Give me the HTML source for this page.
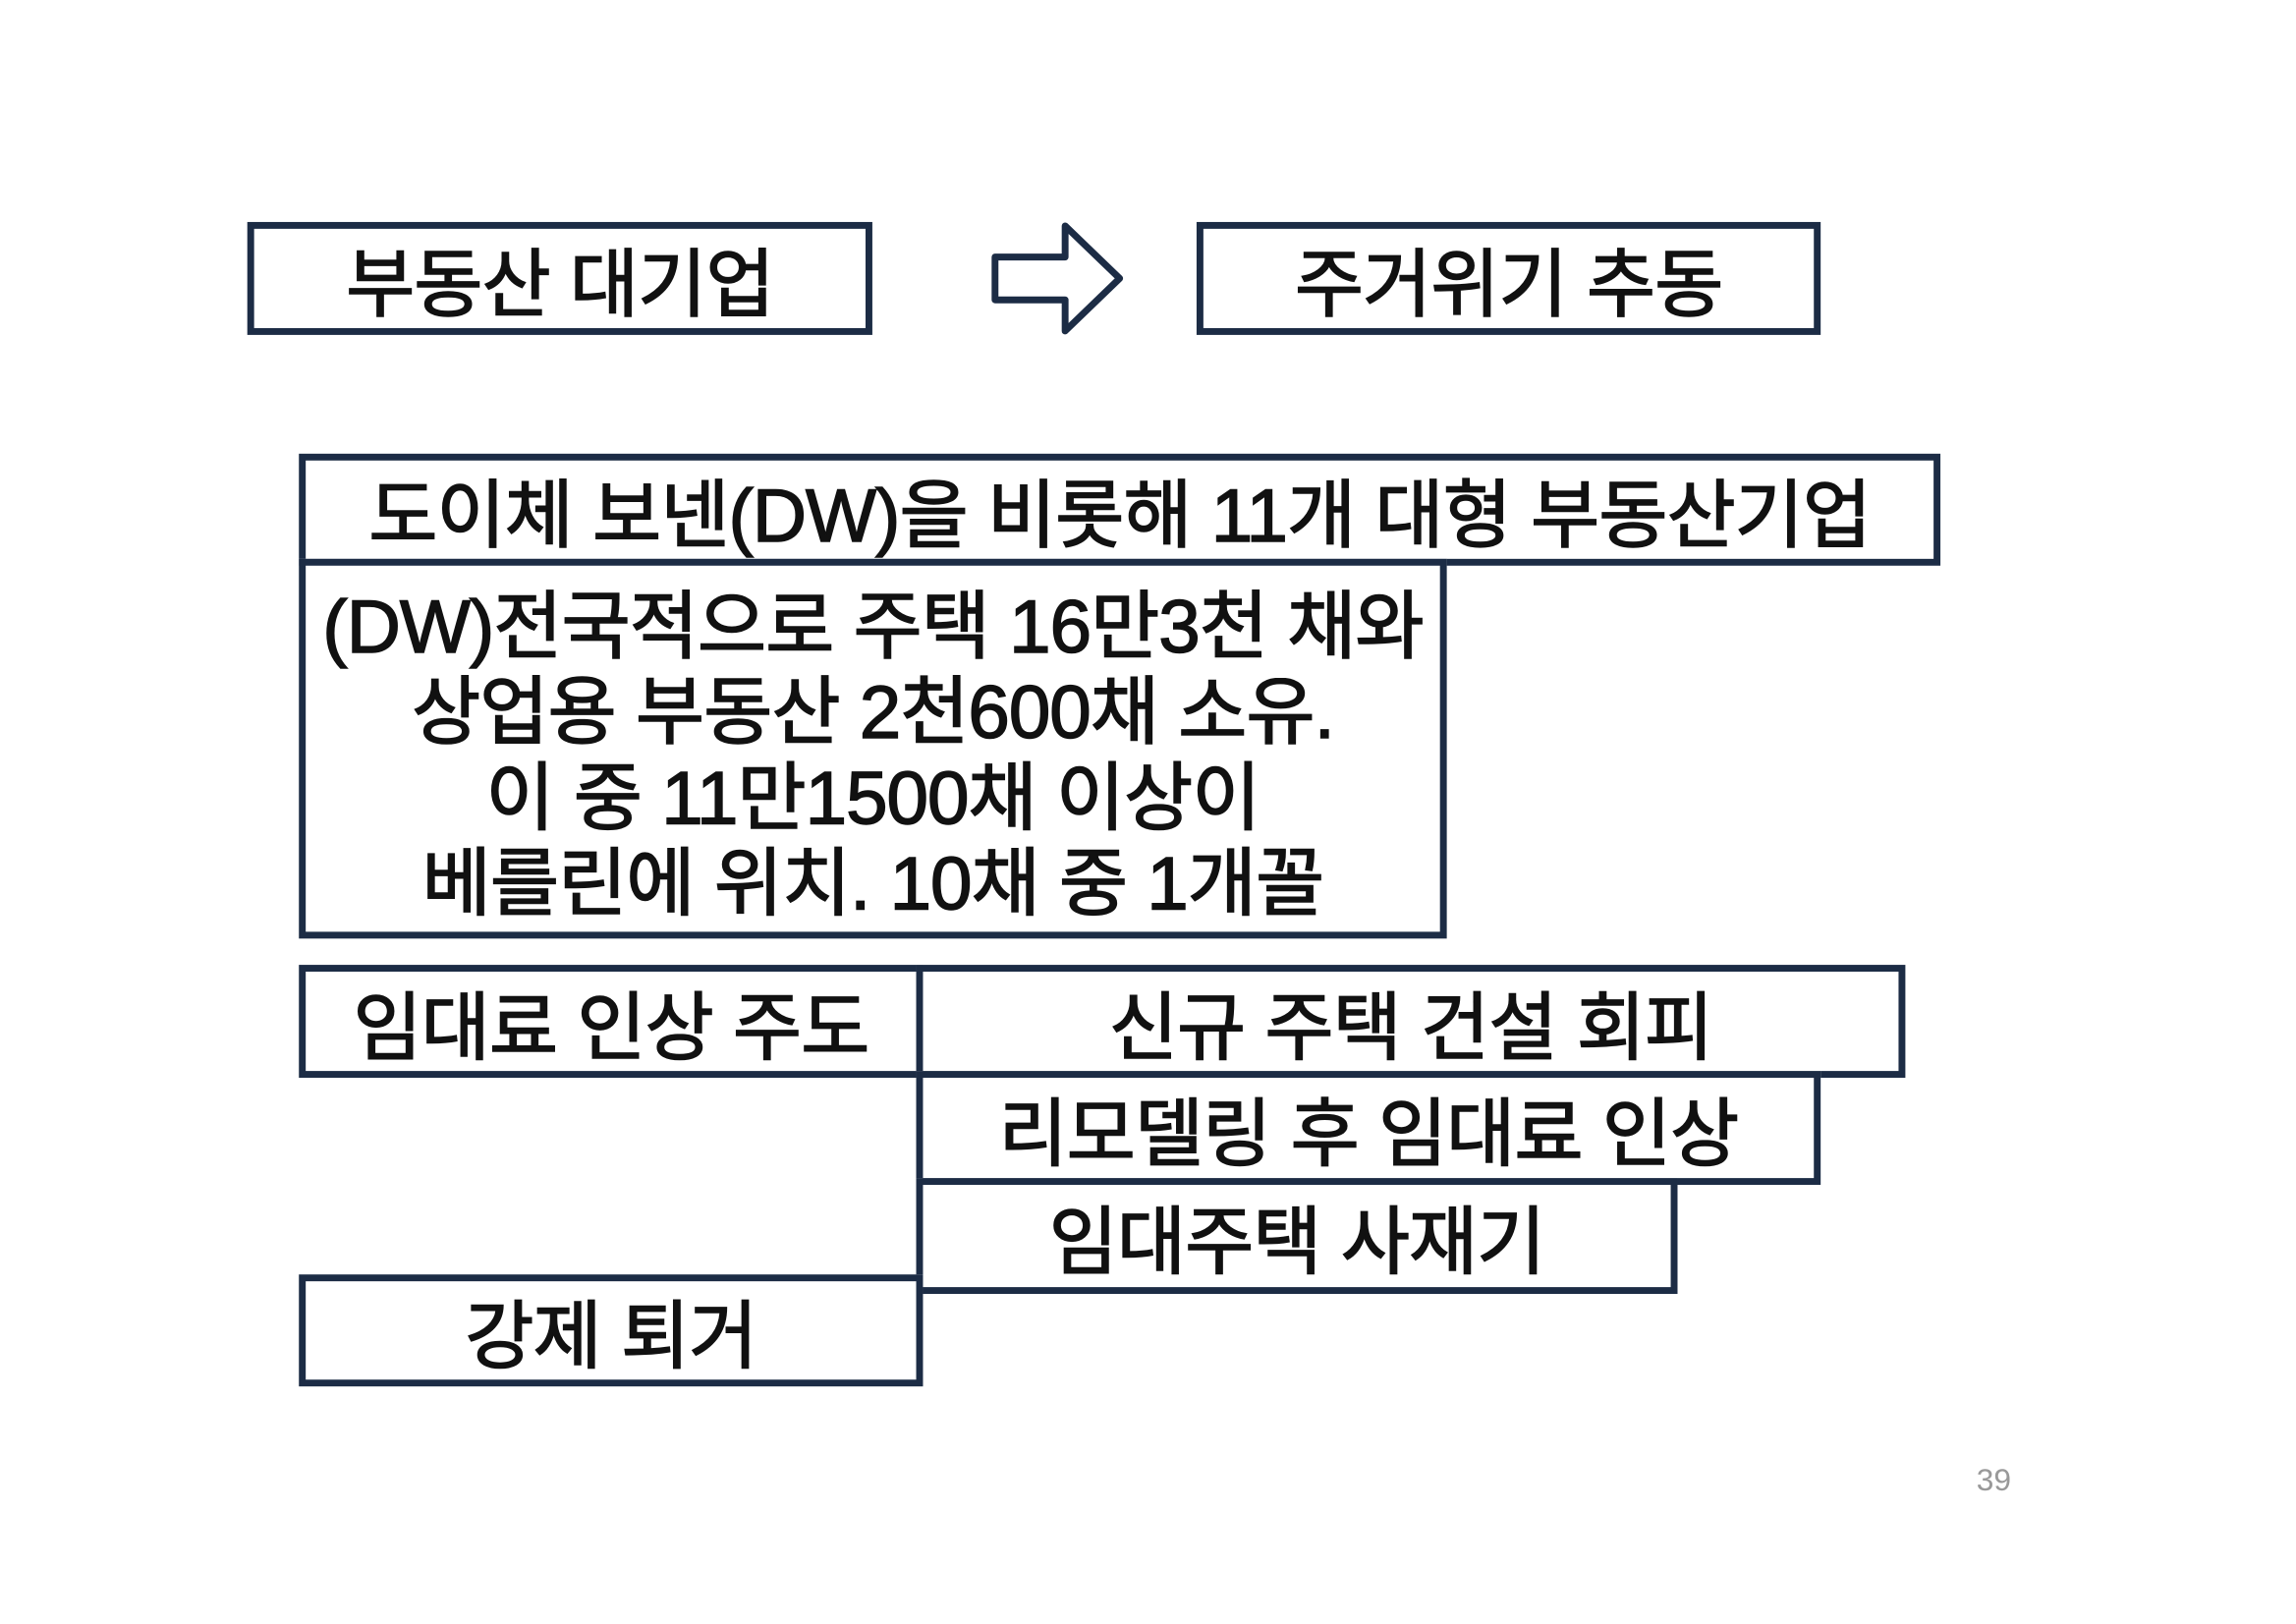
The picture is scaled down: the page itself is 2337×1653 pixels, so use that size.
<!DOCTYPE html>
<html><head><meta charset="utf-8"><style>
html,body{margin:0;padding:0;background:#fff;}
body{width:2337px;height:1653px;position:relative;overflow:hidden;font-family:"Liberation Sans","Noto Sans CJK KR","NanumGothic",sans-serif;}
#w{position:absolute;left:0;top:0;width:2337px;height:1653px;transform:scale(0.991);transform-origin:0 0;}
.b{position:absolute;box-sizing:border-box;border:7px solid #1c2c45;background:#fff;display:flex;align-items:center;justify-content:center;font-size:77px;font-weight:normal;-webkit-text-stroke:1.5px #111;color:#111;white-space:nowrap;letter-spacing:-1px;}
.m{flex-direction:column;line-height:88px;padding-top:14px;}
.pg{position:absolute;left:2030px;top:1502px;font-size:32px;color:#999;}
</style></head><body><div id="w">
<div class="b" style="left:254px;top:228px;width:642px;height:116px;">부동산 대기업</div>
<svg style="position:absolute;left:1010px;top:224px" width="150" height="124"><polygon points="12,40 84,40 84,8 140,62 84,116 84,84 12,84" fill="#fff" stroke="#1c2c45" stroke-width="7" stroke-linejoin="round"/></svg>
<div class="b" style="left:1229px;top:228px;width:641px;height:116px;">주거위기 추동</div>
<div class="b" style="left:307px;top:466px;width:1686px;height:115px;">도이체 보넨(DW)을 비롯해 11개 대형 부동산기업</div>
<div class="b m" style="left:307px;top:574px;width:1179px;height:390px;"><div>(DW)전국적으로 주택 16만3천 채와</div><div>상업용 부동산 2천600채 소유.</div><div>이 중 11만1500채 이상이</div><div>베를린에 위치. 10채 중 1개꼴</div></div>
<div class="b" style="left:307px;top:991px;width:641px;height:116px;">임대료 인상 주도</div>
<div class="b" style="left:941px;top:991px;width:1016px;height:116px;">신규 주택 건설 회피</div>
<div class="b" style="left:941px;top:1100px;width:929px;height:117px;">리모델링 후 임대료 인상</div>
<div class="b" style="left:941px;top:1210px;width:782px;height:119px;">임대주택 사재기</div>
<div class="b" style="left:307px;top:1309px;width:641px;height:115px;">강제 퇴거</div>
<div class="pg">39</div>
</div></body></html>
